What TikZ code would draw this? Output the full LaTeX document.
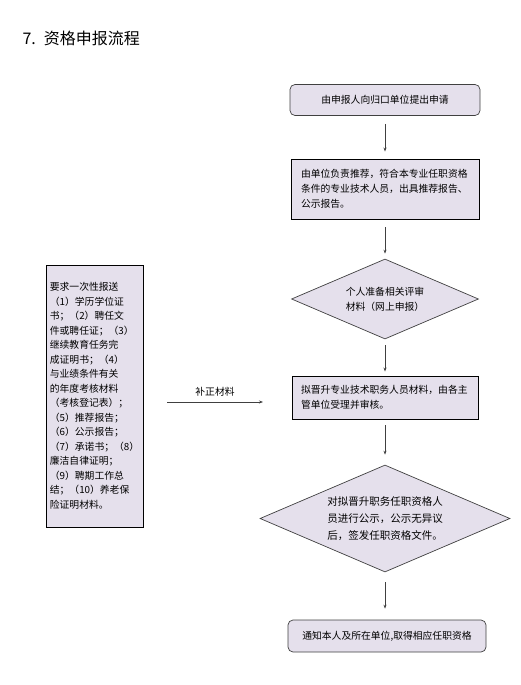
\documentclass[tikz,border=0pt]{standalone}
\usepackage{fontspec}
\setmainfont{Noto Sans CJK SC}
\usepackage{xcolor}
\usepackage{tikz}
\usetikzlibrary{shapes.geometric, positioning, arrows.meta}

\definecolor{boxfill}{RGB}{229,224,236}
\definecolor{edgegray}{RGB}{64,64,64}

\begin{document}
\begin{tikzpicture}[x=1pt, y=-1pt,
    every node/.style={font=\fontsize{9.8}{15}\selectfont},
    stepbox/.style={draw=black, line width=0.9pt, fill=boxfill, align=left, inner sep=0pt},
    endbox/.style={draw=edgegray, line width=0.7pt, fill=boxfill, rounded corners=5pt, align=center},
    check/.style={diamond, draw=edgegray, line width=0.7pt, fill=boxfill, aspect=2.3, inner sep=0pt, align=center},
    flow/.style={-{Stealth[length=4pt, width=3pt]}, draw=edgegray, line width=0.7pt}]
    \useasboundingbox (0,0) rectangle (520,685);

    \node[anchor=west, font=\fontsize{16}{18}\selectfont] (title) at (19,38) {7.\hspace{8pt}资格申报流程};

    % main column
    \node[endbox, minimum width=190pt, minimum height=31pt] (apply) at (385,100) {由申报人向归口单位提出申请};
    \node[stepbox, minimum width=188pt, minimum height=60pt, text width=168pt] (recommend) at (385,189)
        {由单位负责推荐，符合本专业任职资格\\条件的专业技术人员，出具推荐报告、\\公示报告。};
    \node[check, minimum width=187pt, minimum height=80pt] (prepare) at (385,299) {个人准备相关评审\\材料（网上申报）};
    \node[stepbox, minimum width=186pt, minimum height=43pt, text width=168pt] (review) at (385,397.5)
        {拟晋升专业技术职务人员材料，由各主\\管单位受理并审核。};
    \node[check, minimum width=250pt, minimum height=107pt, font=\fontsize{10.5}{17}\selectfont] (publicize) at (385,518.5)
        {对拟晋升职务任职资格人\\员进行公示，公示无异议\\后，签发任职资格文件。};
    \node[endbox, minimum width=198pt, minimum height=32pt] (notify) at (387,636) {通知本人及所在单位,取得相应任职资格};

    \foreach \from/\to/\gapa/\gapb in {apply/recommend/8/7, recommend/prepare/8/5, prepare/review/6/4,
        review/publicize/6/10, publicize/notify/10/11} {
        \draw[flow, shorten <=\gapa pt, shorten >=\gapb pt] (\from.south) -- (\from.south |- \to.north);
    }

    % list of materials
    \node[stepbox, minimum width=97pt, minimum height=262pt, font=\fontsize{9.8}{14.5}\selectfont] (materials) at (94.5,396)
        {要求一次性报送\\（1）学历学位证\\书；（2）聘任文\\件或聘任证；（3）\\继续教育任务完\\成证明书；（4）\\与业绩条件有关\\的年度考核材料\\（考核登记表）；\\（5）推荐报告；\\（6）公示报告；\\（7）承诺书；（8）\\廉洁自律证明；\\（9）聘期工作总\\结；（10）养老保\\险证明材料。};

    \coordinate (fixstart) at (167,402);
    \coordinate (fixend) at (263,402);
    \draw[flow] (fixstart) -- node[above=2pt] (fixlabel) {补正材料} (fixend);
\end{tikzpicture}
\end{document}
